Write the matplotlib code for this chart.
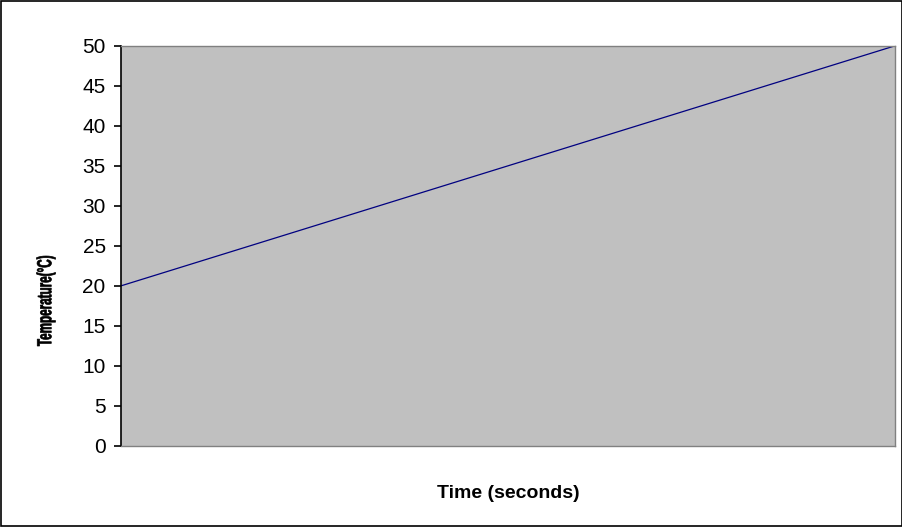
import matplotlib
matplotlib.use("Agg")
import matplotlib.pyplot as plt
from matplotlib.patches import Rectangle, PathPatch
from matplotlib.textpath import TextPath
from matplotlib.font_manager import FontProperties
import matplotlib.transforms as mtransforms

time_s = [0, 60]
temperature_c = [20, 50]
y_ticks = [0, 5, 10, 15, 20, 25, 30, 35, 40, 45, 50]
y_label = "Temperature(°C)"
x_label = "Time (seconds)"

W, H = 903, 527
fig = plt.figure(figsize=(W / 100, H / 100), dpi=100)
fig.patches.append(Rectangle((0.0015, 0.002), 0.997, 0.996, transform=fig.transFigure,
                             fill=False, edgecolor="black", linewidth=1.2))
ax = fig.add_axes([0.134, 0.154, 0.857, 0.759])
ax.set_facecolor("#c0c0c0")
ax.plot(time_s, temperature_c, color="#000080", linewidth=0.9)
ax.set_xlim(time_s[0], time_s[-1])
ax.set_ylim(0, 50)
ax.set_yticks(y_ticks)
ax.set_xticks([])
ax.tick_params(axis="y", direction="out", length=5, width=1.2, labelsize=15, pad=6)
for lab in ax.get_yticklabels():
    lab.set_fontfamily(["Liberation Sans", "DejaVu Sans"])
ax.spines["left"].set_color("black")
ax.spines["left"].set_linewidth(1.2)
for s in ["top", "right", "bottom"]:
    ax.spines[s].set_color("#808080")
    ax.spines[s].set_linewidth(1.0)

fig.text(508 / W, 1 - 493 / H, x_label, ha="center", va="center", fontsize=14,
         fontweight="bold", family=["Liberation Sans", "DejaVu Sans"])

# condensed, rotated y-axis label (drawn as a text path, squeezed like the original)
fp = FontProperties(family=["Liberation Sans", "DejaVu Sans"], weight="bold")
tp = TextPath((0, 0), y_label, size=1, prop=fp)
ext = tp.get_extents()
target_len, target_h = 90, 19
cx, cy = 46, H - 301
tr = (mtransforms.Affine2D()
      .translate(-(ext.x0 + ext.width / 2), -(ext.y0 + ext.height / 2))
      .scale(target_len / ext.width, target_h / ext.height)
      .rotate_deg(90)
      .translate(cx, cy))
patch = PathPatch(tp, facecolor="black", edgecolor="black", linewidth=0.5, transform=tr)
fig.patches.append(patch)

fig.savefig("out.png", dpi=100)
